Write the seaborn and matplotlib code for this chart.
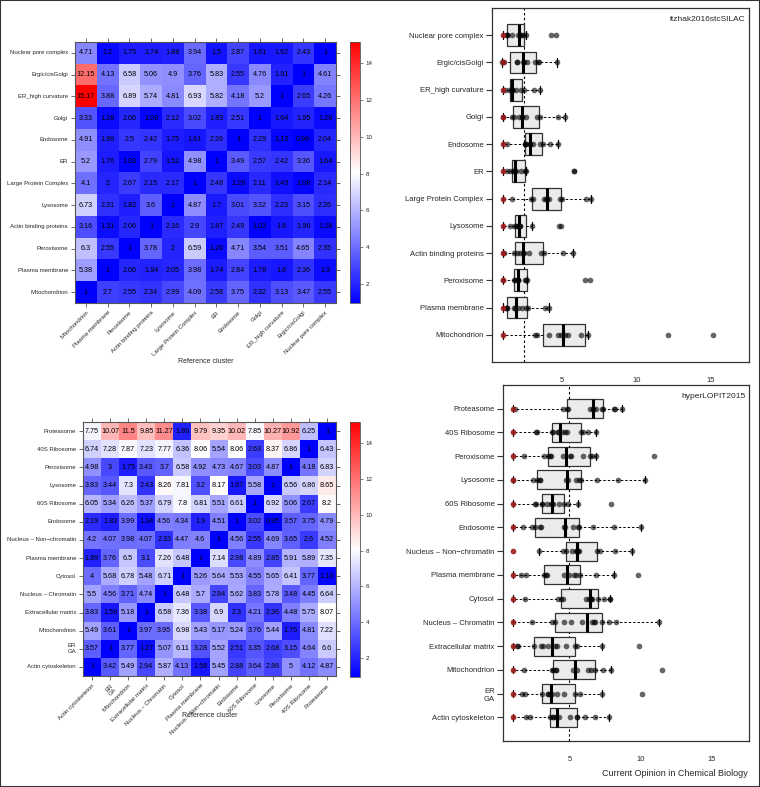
import numpy as np
import pandas as pd
import matplotlib
matplotlib.use("Agg")
import matplotlib.pyplot as plt
import seaborn as sns
from matplotlib.colors import LinearSegmentedColormap
from matplotlib.patches import Rectangle

# ---------------- data ----------------
top_rows = ["Nuclear pore complex", "Ergic/cisGolgi", "ER_high curvature", "Golgi",
            "Endosome", "ER", "Large Protein Complex", "Lysosome",
            "Actin binding proteins", "Peroxisome", "Plasma membrane", "Mitochondrion"]
# rows as above; columns are the same clusters in reverse order
top_values = [
    [4.71, 1.2, 1.75, 1.74, 1.88, 3.94, 1.5, 2.87, 1.61, 1.62, 2.43, 1],
    [12.15, 4.13, 6.58, 5.06, 4.9, 3.76, 5.83, 2.55, 4.76, 1.91, 1, 4.61],
    [15.17, 3.88, 6.89, 5.74, 4.81, 6.93, 5.82, 4.18, 5.2, 1, 2.65, 4.26],
    [3.33, 1.28, 2.06, 1.09, 2.12, 3.02, 1.83, 2.51, 1, 1.64, 1.95, 1.28],
    [4.91, 1.86, 2.5, 2.42, 1.75, 1.61, 2.26, 1, 2.29, 1.13, 0.96, 2.04],
    [5.2, 1.76, 1.03, 2.79, 1.52, 4.98, 1, 3.49, 2.57, 2.42, 3.36, 1.64],
    [4.1, 2, 2.67, 2.15, 2.17, 1, 2.48, 1.28, 2.11, 1.43, 1.08, 2.14],
    [6.73, 2.31, 1.82, 3.6, 1, 4.87, 1.7, 3.01, 3.32, 2.23, 3.15, 2.26],
    [3.16, 1.31, 2.06, 1, 2.16, 2.9, 1.87, 2.49, 1.03, 1.6, 1.96, 1.28],
    [6.3, 2.55, 1, 3.78, 2, 6.59, 1.26, 4.71, 3.54, 3.51, 4.65, 2.35],
    [5.38, 1, 2.06, 1.94, 2.05, 3.98, 1.74, 2.84, 1.78, 1.6, 2.36, 1.3],
    [1, 2.7, 2.55, 2.34, 2.99, 4.09, 2.58, 3.75, 2.32, 3.13, 3.47, 2.55],
]

bot_rows = ["Proteasome", "40S Ribosome", "Peroxisome", "Lysosome", "60S Ribosome",
            "Endosome", "Nucleus \u2013 Non\u2212chromatin", "Plasma membrane", "Cytosol",
            "Nucleus \u2013 Chromatin", "Extracellular matrix", "Mitochondrion",
            "ER\nGA", "Actin cytoskeleton"]
bot_values = [
    [7.75, 10.07, 11.5, 9.85, 11.27, 1.86, 9.79, 9.35, 10.02, 7.85, 10.27, 10.92, 6.25, 1],
    [6.74, 7.28, 7.87, 7.23, 7.77, 6.36, 8.06, 5.54, 8.06, 2.63, 8.37, 6.86, 1, 6.43],
    [4.98, 3, 1.75, 3.43, 3.7, 6.58, 4.92, 4.73, 4.67, 3.03, 4.87, 1, 4.18, 6.83],
    [3.83, 3.44, 7.3, 2.43, 8.26, 7.81, 3.2, 8.17, 1.67, 5.58, 1, 6.56, 6.86, 8.65],
    [6.05, 5.34, 6.26, 5.37, 6.79, 7.8, 6.81, 5.51, 6.61, 1, 6.92, 5.06, 2.67, 8.2],
    [2.19, 1.83, 3.99, 1.34, 4.56, 4.34, 1.9, 4.51, 1, 3.02, 0.95, 3.57, 3.75, 4.79],
    [4.2, 4.07, 3.98, 4.07, 2.33, 4.47, 4.6, 1, 4.56, 2.55, 4.69, 3.65, 2.6, 4.52],
    [1.89, 3.76, 6.5, 3.1, 7.26, 6.48, 1, 7.14, 2.98, 4.89, 2.85, 5.91, 5.89, 7.35],
    [4, 5.68, 6.78, 5.48, 6.71, 1, 5.26, 5.64, 5.53, 4.55, 5.65, 6.41, 3.77, 1.13],
    [5.5, 4.56, 3.71, 4.74, 1, 6.48, 5.7, 2.84, 5.62, 3.83, 5.78, 3.48, 4.45, 6.64],
    [3.83, 1.59, 5.18, 1, 6.58, 7.36, 3.38, 6.9, 2.3, 4.21, 2.36, 4.48, 5.75, 8.07],
    [5.49, 3.61, 1, 3.97, 3.95, 6.98, 5.43, 5.17, 5.24, 3.76, 5.44, 1.76, 4.81, 7.22],
    [3.57, 1, 3.77, 1.27, 5.07, 6.11, 3.28, 5.52, 2.51, 3.35, 2.68, 3.15, 4.64, 6.6],
    [1, 3.42, 5.49, 2.94, 5.87, 4.13, 1.58, 5.45, 2.88, 3.64, 2.86, 5, 4.12, 4.87],
]

panel_titles = ["itzhak2016stcSILAC", "hyperLOPIT2015"]
ref_lines = [2.43, 4.93]
cbar_ticks = [2, 4, 6, 8, 10, 12, 14]
box_xticks = [5, 10, 15]
footer = "Current Opinion in Chemical Biology"

# ---------------- style ----------------
sns.set_theme(style="white")
plt.rcParams["font.family"] = ["Liberation Sans", "DejaVu Sans"]

W, H = 760, 787
fig = plt.figure(figsize=(W / 100, H / 100), dpi=100)


def rect(l, t, r, b):
    return [l / W, 1 - b / H, (r - l) / W, (b - t) / H]


cmap = LinearSegmentedColormap.from_list("bwr_r", ["#0000FF", "#FFFFFF", "#FF0000"])
VMIN, VMAX = 0.95, 15.17
FRAME = "#555555"


def draw_heatmap(ax, cax, rows, values, xlab_y):
    cols = rows[::-1]
    df = pd.DataFrame(values, index=rows, columns=cols)
    labels = np.vectorize(lambda v: f"{v:g}")(df.values)
    sns.heatmap(df, ax=ax, cbar_ax=cax, cmap=cmap, vmin=VMIN, vmax=VMAX,
                annot=labels, fmt="", annot_kws=dict(size=5.2, color="black"),
                xticklabels=True, yticklabels=True)
    ax.set_xticklabels(cols, rotation=45, ha="right", rotation_mode="anchor", fontsize=4.3)
    ax.set_yticklabels(rows, rotation=0, fontsize=4.3)
    ax.tick_params(axis="both", which="both", length=3, width=0.6, color=FRAME,
                   direction="out", top=True, right=True, left=True, bottom=True,
                   labeltop=False, labelright=False, pad=2)
    for s in ax.spines.values():
        s.set_visible(True)
        s.set_color(FRAME)
        s.set_linewidth(0.8)
    ax.set_ylabel("")
    ax.set_xlabel("Reference cluster", fontsize=5)
    ax.xaxis.set_label_coords(0.5, xlab_y)
    cb = ax.collections[0].colorbar
    cb.set_ticks(cbar_ticks)
    cb.ax.tick_params(labelsize=4.5, length=2, width=0.5, color=FRAME, right=True, pad=2)
    cb.outline.set_linewidth(0.6)
    cb.outline.set_edgecolor(FRAME)


def tukey_stats(x, label):
    x = np.sort(np.asarray(x, dtype=float))
    n = len(x)
    n4 = np.floor((n + 3) / 2) / 2
    d = np.array([1, n4, (n + 1) / 2, n + 1 - n4, n]) - 1
    f = 0.5 * (x[np.floor(d).astype(int)] + x[np.ceil(d).astype(int)])
    q1, med, q3 = f[1], f[2], f[3]
    iqr = q3 - q1
    lo = x[x >= q1 - 1.5 * iqr].min()
    hi = x[x <= q3 + 1.5 * iqr].max()
    return dict(label=label, med=med, q1=q1, q3=q3, whislo=lo, whishi=hi, fliers=[])


def draw_box(ax, rows, values, title, ref):
    M = np.array(values, dtype=float)
    cols = rows[::-1]
    n = len(rows)
    recs, stats = [], []
    for i, c in enumerate(rows):
        j = cols.index(c)
        col = M[:, j]
        for k, v in enumerate(col):
            recs.append(dict(cat=c, value=v, own=(k == i)))
        stats.append(tukey_stats(col, c))
    df = pd.DataFrame(recs)

    ax.axvline(ref, color="black", lw=0.8, ls=(0, (2.2, 2.2)), zorder=1)
    sns.stripplot(data=df[~df.own], x="value", y="cat", order=rows, jitter=False,
                  color="black", alpha=0.6, size=4.1, linewidth=0, ax=ax, zorder=4)
    sns.stripplot(data=df[df.own], x="value", y="cat", order=rows, jitter=False,
                  color="#9E1B1B", alpha=0.9, size=4.1, linewidth=0, ax=ax, zorder=4)
    ax.bxp(stats, positions=list(range(n)), orientation="horizontal", widths=0.8,
           showfliers=False, patch_artist=True, manage_ticks=False, zorder=2,
           boxprops=dict(facecolor="#EBEBEB", edgecolor="#333333", linewidth=0.9),
           medianprops=dict(color="black", linewidth=2.2),
           whiskerprops=dict(color="black", linewidth=0.7, linestyle=(0, (2.5, 2))),
           capprops=dict(color="black", linewidth=0.9), capwidths=0.3)
    ax.set_ylim(n, -1)
    ax.set_xlim(0.28, 17.6)
    ax.set_xticks(box_xticks)
    ax.set_yticks(range(n))
    ax.set_yticklabels(rows, fontsize=5.5)
    ax.tick_params(axis="y", left=True, length=4, width=0.8, color="#333333", pad=2)
    ax.tick_params(axis="x", bottom=True, length=0, labelsize=5.5, pad=11)
    ax.set_xlabel("")
    ax.set_ylabel("")
    for s in ax.spines.values():
        s.set_visible(True)
        s.set_color("#333333")
        s.set_linewidth(0.9)
    ax.text(0.985, 0.977, title, transform=ax.transAxes, ha="right", va="top", fontsize=6)


# ---------------- axes ----------------
ax_h1 = fig.add_axes(rect(75, 42, 336, 303))
cax1 = fig.add_axes(rect(350, 42, 360, 303))
ax_h2 = fig.add_axes(rect(83, 422, 336, 676))
cax2 = fig.add_axes(rect(350, 422, 360, 677))
ax_b1 = fig.add_axes(rect(492, 8, 749, 362))
ax_b2 = fig.add_axes(rect(503, 385, 749, 741))

draw_heatmap(ax_h1, cax1, top_rows, top_values, (303 - 358) / 261)
draw_heatmap(ax_h2, cax2, bot_rows, bot_values, (676 - 712) / 254)
draw_box(ax_b1, top_rows, top_values, panel_titles[0], ref_lines[0])
draw_box(ax_b2, bot_rows, bot_values, panel_titles[1], ref_lines[1])

fig.text(748 / W, 1 - 774 / H, footer, ha="right", va="center", fontsize=6.5)
fig.patches.append(Rectangle((0, 0), 1, 1, transform=fig.transFigure, fill=False,
                             edgecolor="#333333", linewidth=1.5))

fig.savefig("out.png", dpi=100)
